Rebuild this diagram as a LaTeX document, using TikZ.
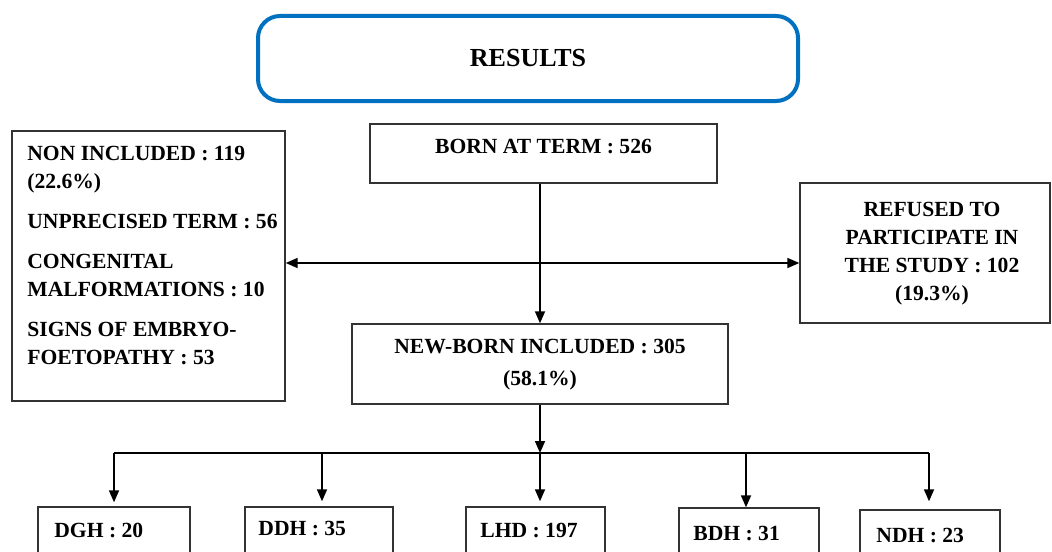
\documentclass[tikz,border=0pt]{standalone}
\usepackage{fontspec}
\setmainfont{Liberation Serif}
\usetikzlibrary{arrows.meta,calc}
\definecolor{resblue}{HTML}{0070C0}
\begin{document}
\begin{tikzpicture}[x=0.5pt,y=-0.5pt,
  box/.style={draw=black!80,line width=0.7pt,inner sep=0pt},
  txt/.style={font=\fontsize{10.8}{14}\selectfont\bfseries,inner sep=0pt},
  arr/.style={-{Triangle[length=6pt,width=5pt]},line width=0.85pt},
  bus/.style={line width=0.85pt}]
\clip (0,0) rectangle (1052,551);
% title
\node[draw=resblue,line width=2pt,rounded corners=11pt,minimum width=270pt,minimum height=42.5pt,
      font=\fontsize{13}{15}\selectfont\bfseries] (res) at (528,58.5) {RESULTS};
% born at term
\node[box,minimum width=173.5pt,minimum height=29.5pt] (born) at (543.5,153.5) {};
\node[txt] (borntxt) at (543.5,147) {BORN AT TERM : 526};
% non included
\node[box,minimum width=136.5pt,minimum height=135pt] (non) at (148.5,266) {};
\node[txt,anchor=north west,align=left] (nontxt) at (27,146)
  {NON INCLUDED : 119\\(22.6\%)\\[6pt]UNPRECISED TERM : 56\\[6pt]CONGENITAL\\MALFORMATIONS : 10\\[6pt]SIGNS OF EMBRYO-\\FOETOPATHY : 53};
% refused
\node[box,minimum width=125pt,minimum height=70pt] (ref) at (925,253) {};
\node[txt,align=center] (reftxt) at (932,254) {REFUSED TO\\PARTICIPATE IN\\THE STUDY : 102\\(19.3\%)};
% new-born included
\node[box,minimum width=188pt,minimum height=40pt] (nb) at (540,364) {};
\node[txt,align=center,font=\fontsize{10.8}{16}\selectfont\bfseries] (nbtxt) at (540,365) {NEW-BORN INCLUDED : 305\\(58.1\%)};
% bottom boxes
\node[box,minimum width=76pt,minimum height=36.5pt] (dgh) at (114,543.5) {};
\node[box,minimum width=74pt,minimum height=36.5pt] (ddh) at (319,543.5) {};
\node[box,minimum width=69.5pt,minimum height=36.5pt] (lhd) at (535.5,543.5) {};
\node[box,minimum width=70pt,minimum height=36pt] (bdh) at (749,544) {};
\node[box,minimum width=70pt,minimum height=35pt] (ndh) at (930,545) {};
\node[txt,anchor=west] (dghtxt) at (54,530) {DGH : 20};
\node[txt,anchor=west] (ddhtxt) at (258,528) {DDH : 35};
\node[txt,anchor=west] (lhdtxt) at (480,530) {LHD : 197};
\node[txt,anchor=west] (bdhtxt) at (693,533) {BDH : 31};
\node[txt,anchor=west] (ndhtxt) at (876,535) {NDH : 23};
% connectors
\coordinate (split) at (540,263);
\draw[arr] (born.south -| nb.north) -- (nb.north);
\draw[arr] (split) -- (split -| non.east);
\draw[arr] (split) -- (split -| ref.west);
\coordinate (b1) at (114,453);
\coordinate (b2) at (322,453);
\coordinate (b3) at (540,453);
\coordinate (b4) at (746,453);
\coordinate (b5) at (929,453);
\draw[arr] (nb.south) -- (b3);
\draw[bus] (b1) -- (b5);
\draw[arr] (b1) -- ($(b1 |- dgh.north)+(0,-4)$);
\draw[arr] (b2) -- ($(b2 |- ddh.north)+(0,-5)$);
\draw[arr] (b3) -- ($(b3 |- lhd.north)+(0,-5)$);
\draw[arr] (b4) -- (b4 |- bdh.north);
\draw[arr] (b5) -- ($(b5 |- ndh.north)+(0,-8)$);
\end{tikzpicture}
\end{document}
